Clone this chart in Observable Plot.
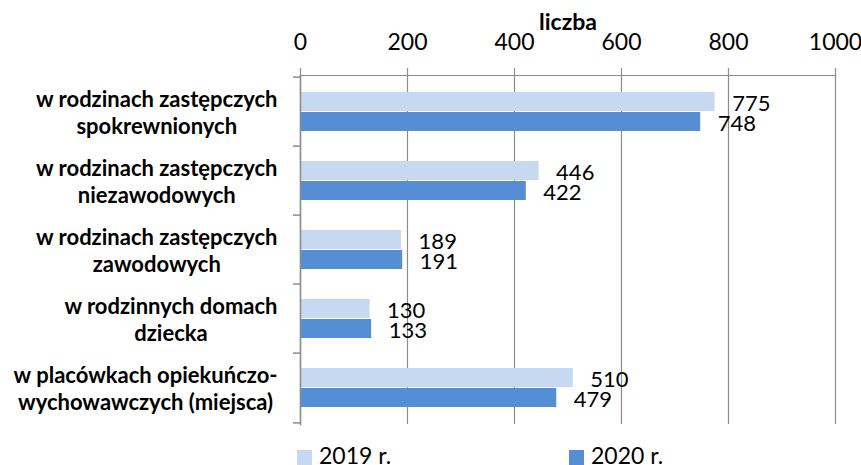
<!DOCTYPE html>
<html>
<head>
<meta charset="utf-8">
<script src="https://cdn.jsdelivr.net/npm/d3@7"></script>
<script src="https://cdn.jsdelivr.net/npm/@observablehq/plot@0.6"></script>
<style>
  html, body { margin: 0; padding: 0; background: #fff; }
  #wrap { position: relative; width: 861px; height: 465px; overflow: hidden; font-family: Lato, "Open Sans", sans-serif; }
  #legend { position: absolute; top: 441px; left: 0; width: 861px; height: 30px; font-size: 23px; color: #000; }
  .li { position: absolute; display: flex; align-items: center; }
  .sw { width: 15px; height: 15px; margin-right: 7px; margin-top: 5px; }
</style>
</head>
<body>
<div id="wrap"></div>
<script>
const categories = [
  "w rodzinach zastępczych\nspokrewnionych",
  "w rodzinach zastępczych\nniezawodowych",
  "w rodzinach zastępczych\nzawodowych",
  "w rodzinnych domach\ndziecka",
  "w placówkach opiekuńczo-\nwychowawczych (miejsca)"
];
const values2019 = [775, 446, 189, 130, 510];
const values2020 = [748, 422, 191, 133, 479];
const seriesNames = ["2019 r.", "2020 r."];
const xTicks = [0, 200, 400, 600, 800, 1000];
const axisTitle = "liczba";
const colors = ["#C6D9F1", "#558ED5"];

const d19 = categories.map((c, i) => ({category: c, value: values2019[i]}));
const d20 = categories.map((c, i) => ({category: c, value: values2020[i]}));

const grid = "#8C8C8C";
const font = "Lato, 'Open Sans', sans-serif";

const chart = Plot.plot({
  width: 861,
  height: 440,
  marginLeft: 300,
  marginRight: 26,
  marginTop: 75,
  marginBottom: 16,
  style: {fontFamily: font, background: "#fff", color: "#000"},
  x: {domain: [0, 1000], axis: null},
  y: {domain: categories, padding: 0, axis: null},
  marks: [
    Plot.ruleX(xTicks, {stroke: grid, strokeWidth: 1.2}),
    Plot.frame({anchor: "top", stroke: grid, strokeWidth: 1.2}),
    Plot.axisX({
      anchor: "top", ticks: xTicks, tickSize: 8, tickPadding: 18,
      stroke: grid, strokeWidth: 1.2, fontSize: 23, fill: "#000", label: null,
      tickFormat: d => String(d)
    }),
    Plot.text([axisTitle], {frameAnchor: "top", dy: -53, fontSize: 23, fontWeight: "bold", fill: "#000", lineAnchor: "middle"}),
    Plot.barX(d19, {y: "category", x: "value", fill: colors[0], insetTop: 15, insetBottom: 35, insetLeft: 1}),
    Plot.barX(d20, {y: "category", x: "value", fill: colors[1], insetTop: 35, insetBottom: 15, insetLeft: 1}),
    Plot.frame({anchor: "left", stroke: grid, strokeWidth: 1.5}),
    Plot.ruleY(categories, {y: d => d, x1: 0, x2: 0, insetLeft: -7, dy: -34.9, stroke: grid, strokeWidth: 1.5}),
    Plot.ruleY([categories[categories.length - 1]], {y: d => d, x1: 0, x2: 0, insetLeft: -7, dy: 34.9, stroke: grid, strokeWidth: 1.5}),
    Plot.text(d19, {y: "category", x: "value", text: d => String(d.value), dx: 17, dy: -8, textAnchor: "start", fontSize: 22, fill: "#000"}),
    Plot.text(d20, {y: "category", x: "value", text: d => String(d.value), dx: 17, dy: 12, textAnchor: "start", fontSize: 22, fill: "#000"}),
    Plot.axisY({
      anchor: "left", tickSize: 0, tickPadding: 23, fontSize: 22, fontWeight: "bold",
      lineHeight: 1.24, fill: "#000", label: null, ariaLabel: "cat-axis"
    })
  ]
});

const wrap = document.getElementById("wrap");
wrap.appendChild(chart);

chart.querySelectorAll('g[aria-label="cat-axis tick label"] text, g[aria-label="y-axis tick label"] text').forEach(t => {
  const bb = t.getBBox();
  const m = /translate\(([-\d.]+),\s*([-\d.]+)\)/.exec(t.getAttribute("transform") || "");
  if (!m) return;
  const tx = parseFloat(m[1]), ty = parseFloat(m[2]);
  const cx = bb.x + bb.width / 2;
  t.setAttribute("text-anchor", "middle");
  t.setAttribute("transform", `translate(${tx + cx},${ty})`);
});

const legend = document.createElement("div");
legend.id = "legend";
const legendX = [297, 569];
seriesNames.forEach((name, i) => {
  const item = document.createElement("div");
  item.className = "li";
  item.style.left = legendX[i] + "px";
  item.style.top = "0px";
  const sw = document.createElement("span");
  sw.className = "sw";
  sw.style.background = colors[i];
  const label = document.createElement("span");
  label.textContent = name;
  item.appendChild(sw);
  item.appendChild(label);
  legend.appendChild(item);
});
wrap.appendChild(legend);
</script>
</body>
</html>
